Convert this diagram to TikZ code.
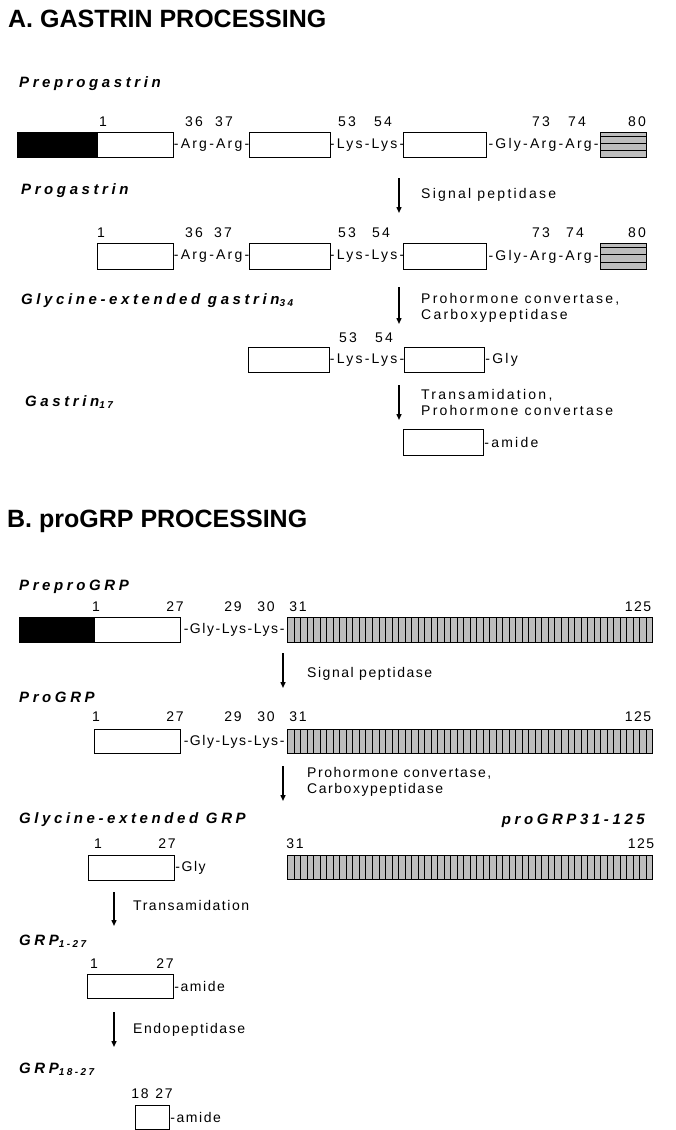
\documentclass[tikz,border=0pt]{standalone}
\usepackage{fontspec}
\setmainfont{Liberation Sans}
\newfontfamily\titlefont{Liberation Sans}
\newfontfamily\headfont{Liberation Sans}[LetterSpace=24]
\newfontfamily\lblfontA{Liberation Sans}[LetterSpace=16]
\newfontfamily\lblfontB{Liberation Sans}[LetterSpace=11]
\usetikzlibrary{arrows.meta, calc}

\definecolor{stripegray}{gray}{0.74}
\newcommand\lowidx[1]{\raisebox{-0.35ex}{\fontsize{10}{12}\selectfont #1}}
\let\lblfont\lblfontA

\tikzset{
  heading/.style={anchor=base west, inner sep=0, font=\titlefont\bfseries\fontsize{25}{30}\selectfont},
  stage/.style={anchor=base west, inner sep=0, font=\headfont\bfseries\itshape\fontsize{15}{18}\selectfont},
  enzyme/.style={anchor=base west, inner sep=0, align=left, font=\lblfont\fontsize{14}{16}\selectfont},
  resnum/.style={anchor=base, inner sep=0, font=\lblfont\fontsize{14}{16}\selectfont},
  bridge/.style={inner sep=0, font=\lblfont\fontsize{14}{16}\selectfont},
  seg/.style={draw, fill=white, line width=1.2pt, anchor=north west, inner sep=0, minimum height=25},
  signal/.style={seg, fill=black},
  hstripes/.style={seg, fill=stripegray, path picture={
    \foreach \f in {0.15,0.43,0.71}
      \draw[line width=1.1pt] ($(path picture bounding box.north west)!\f!(path picture bounding box.south west)$)
        -- ($(path picture bounding box.north east)!\f!(path picture bounding box.south east)$);}},
  vstripes/.style={seg, fill=stripegray, path picture={
    \foreach \k in {1,...,55}
      \draw[line width=0.7pt] ($(path picture bounding box.north west)!\k/56!(path picture bounding box.north east)$)
        -- ($(path picture bounding box.south west)!\k/56!(path picture bounding box.south east)$);}},
  cleave/.style={line width=1.4pt, -{Triangle[length=6pt,width=5pt]}}
}

\begin{document}
\begin{tikzpicture}[x=1pt, y=-1pt]
\useasboundingbox (0,0) rectangle (676,1130);

% A. gastrin
\node[heading] (ta) at (8,27) {A. GASTRIN PROCESSING};

\node[stage] (preprog) at (19,87) {Preprogastrin};
\node[signal, minimum width=80] (a1s) at (17,132) {};
\node[seg, minimum width=76] (a1w) at (97,132) {};
\node[seg, minimum width=81] (a1m) at (249,132) {};
\node[seg, minimum width=83] (a1n) at (403,132) {};
\node[hstripes, minimum width=46] (a1c) at (600,132) {};
\node[bridge] at ($(a1w.east)!0.5!(a1m.west)$) {-Arg-Arg-};
\node[bridge] at ($(a1m.east)!0.5!(a1n.west)$) {-Lys-Lys-};
\node[bridge] at ($(a1n.east)!0.5!(a1c.west)$) {-Gly-Arg-Arg-};
\foreach \n/\x in {1/103, 36/194, 37/224, 53/347, 54/383, 73/541, 74/577, 80/637}
  \node[resnum] (a1p\n) at (\x,126) {\n};

\coordinate (sa1) at (399,178);
\coordinate (ea1) at (399,213);
\draw[cleave] (sa1) -- (ea1);
\node[enzyme] (za1) at (421,198) {Signal peptidase};

\node[stage] (prog) at (21,194) {Progastrin};
\node[seg, minimum width=76, minimum height=26] (a2w) at (97,243) {};
\node[seg, minimum width=81, minimum height=26] (a2m) at (249,243) {};
\node[seg, minimum width=83, minimum height=26] (a2n) at (403,243) {};
\node[hstripes, minimum width=46, minimum height=26] (a2c) at (600,243) {};
\node[bridge] at ($(a2w.east)!0.5!(a2m.west)$) {-Arg-Arg-};
\node[bridge] at ($(a2m.east)!0.5!(a2n.west)$) {-Lys-Lys-};
\node[bridge] at ($(a2n.east)!0.5!(a2c.west)$) {-Gly-Arg-Arg-};
\foreach \n/\x in {1/101, 36/194, 37/223, 53/347, 54/381, 73/541, 74/575, 80/637}
  \node[resnum] (a2p\n) at (\x,237) {\n};

\coordinate (sa2) at (399,287);
\coordinate (ea2) at (399,324);
\draw[cleave] (sa2) -- (ea2);
\node[enzyme, anchor=west] (za2) at (421,307.5) {Prohormone convertase,\\Carboxypeptidase};

\node[stage] (glyg) at (21,304) {Glycine-extended gastrin\lowidx{34}};
\node[seg, minimum width=81] (a3m) at (248,347) {};
\node[seg, minimum width=80] (a3n) at (404,347) {};
\node[bridge] at ($(a3m.east)!0.5!(a3n.west)$) {-Lys-Lys-};
\node[bridge, anchor=west] at (a3n.east) {-Gly};
\foreach \n/\x in {53/348, 54/384}
  \node[resnum] (a3p\n) at (\x,342) {\n};

\coordinate (sa3) at (399,385);
\coordinate (ea3) at (399,420);
\draw[cleave] (sa3) -- (ea3);
\node[enzyme, anchor=west] (za3) at (421,402.5) {Transamidation,\\Prohormone convertase};

\node[stage] (g17) at (25,406) {Gastrin\lowidx{17}};
\node[seg, minimum width=80, minimum height=26] (a4n) at (403,429) {};
\node[bridge, anchor=west] at (a4n.east) {-amide};

% B. proGRP
\let\lblfont\lblfontB
\node[heading] (tb) at (7,527) {B. proGRP PROCESSING};

\node[stage] (pprogrp) at (19,590) {PreproGRP};
\node[signal, minimum width=75] (b1s) at (19,617) {};
\node[seg, minimum width=86] (b1w) at (94,617) {};
\node[vstripes, minimum width=365] (b1c) at (287,617) {};
\node[bridge] at ($(b1w.east)!0.5!(b1c.west)$) {-Gly-Lys-Lys-};
\foreach \n/\x in {1/96, 27/175, 29/233, 30/266, 31/298, 125/638}
  \node[resnum] (b1p\n) at (\x,611) {\n};

\coordinate (sb1) at (283,653);
\coordinate (eb1) at (283,688);
\draw[cleave] (sb1) -- (eb1);
\node[enzyme] (zb1) at (307,677) {Signal peptidase};

\node[stage] (progrp) at (19,702) {ProGRP};
\node[seg, minimum width=86, minimum height=24] (b2w) at (94,729) {};
\node[vstripes, minimum width=365, minimum height=24] (b2c) at (287,729) {};
\node[bridge] at ($(b2w.east)!0.5!(b2c.west)$) {-Gly-Lys-Lys-};
\foreach \n/\x in {1/96, 27/175, 29/233, 30/266, 31/298, 125/638}
  \node[resnum] (b2p\n) at (\x,721) {\n};

\coordinate (sb2) at (283,766);
\coordinate (eb2) at (283,801);
\draw[cleave] (sb2) -- (eb2);
\node[enzyme, anchor=west] (zb2) at (307,782) {Prohormone convertase,\\Carboxypeptidase};

\node[stage] (glygrp) at (19,823) {Glycine-extended GRP};
\node[stage, anchor=base east] (grp31) at (645,824) {proGRP31-125};
\node[seg, minimum width=86] (b3w) at (88,855) {};
\node[bridge, anchor=west] at (b3w.east) {-Gly};
\node[vstripes, minimum width=365, minimum height=24] (b3c) at (287,855) {};
\foreach \n/\x in {1/98, 27/167, 31/295, 125/641}
  \node[resnum] (b3p\n) at (\x,848) {\n};

\coordinate (sb3) at (114,892);
\coordinate (eb3) at (114,926);
\draw[cleave] (sb3) -- (eb3);
\node[enzyme] (zb3) at (133,910) {Transamidation};

\node[stage] (grp127) at (19,945) {GRP\lowidx{1-27}};
\node[seg, minimum width=86, minimum height=24] (b4w) at (87,974) {};
\node[bridge, anchor=west] at (b4w.east) {-amide};
\foreach \n/\x in {1/94, 27/165}
  \node[resnum] (b4p\n) at (\x,968) {\n};

\coordinate (sb4) at (114,1012);
\coordinate (eb4) at (114,1047);
\draw[cleave] (sb4) -- (eb4);
\node[enzyme] (zb4) at (133,1033) {Endopeptidase};

\node[stage] (grp1827) at (19,1073) {GRP\lowidx{18-27}};
\node[seg, minimum width=34, minimum height=24] (b5w) at (135,1105) {};
\node[bridge, anchor=west] at (b5w.east) {-amide};
\foreach \n/\x in {18/140, 27/164}
  \node[resnum] (b5p\n) at (\x,1098) {\n};
\end{tikzpicture}
\end{document}
